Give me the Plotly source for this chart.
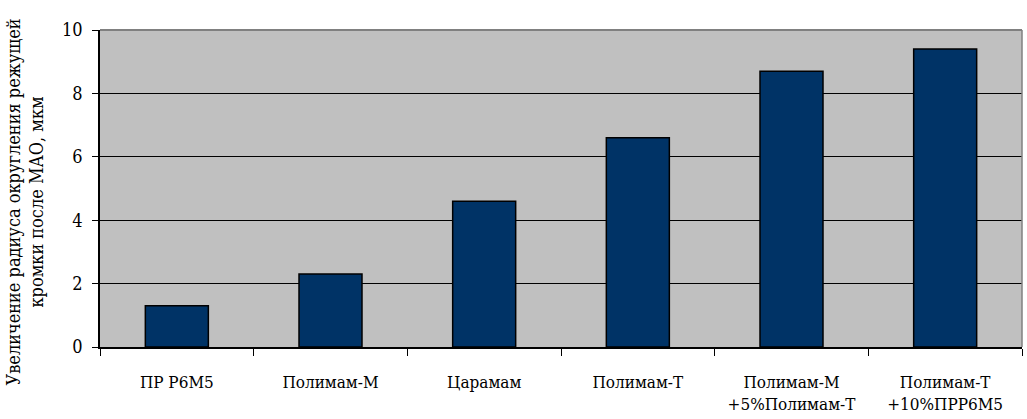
import plotly.graph_objects as go

categories = [
    "ПР Р6М5",
    "Полимам-М",
    "Царамам",
    "Полимам-Т",
    "Полимам-М<br>+5%Полимам-Т",
    "Полимам-Т<br>+10%ПРР6М5",
]
values = [1.3, 2.3, 4.6, 6.6, 8.7, 9.4]
y_ticks = [0, 2, 4, 6, 8, 10]

font_family = "DejaVu Serif Condensed, DejaVu Serif"

fig = go.Figure(
    go.Bar(
        x=categories,
        y=values,
        marker=dict(color="#003366", line=dict(color="#000000", width=1.5)),
        width=0.41,
    )
)

fig.update_layout(
    width=1027,
    height=419,
    margin=dict(l=100, r=5, t=30, b=72),
    paper_bgcolor="white",
    plot_bgcolor="#C0C0C0",
    showlegend=False,
    font=dict(family=font_family, size=17, color="black"),
)

fig.update_xaxes(
    showline=True,
    linecolor="black",
    linewidth=1.5,
    ticks="outside",
    ticklen=7,
    tickcolor="black",
    tickson="boundaries",
    showgrid=False,
    ticklabelstandoff=19,
    tickfont=dict(family=font_family, size=17),
)
fig.update_yaxes(
    range=[0, 10],
    tickvals=y_ticks,
    showline=True,
    linecolor="black",
    linewidth=1.5,
    ticks="outside",
    ticklen=6,
    tickcolor="black",
    showgrid=True,
    gridcolor="black",
    gridwidth=1.2,
    zeroline=False,
    ticklabelstandoff=6,
    tickfont=dict(family=font_family, size=18),
)

# gray frame along the top and right of the plot area
fig.add_shape(
    type="line", xref="paper", yref="paper", x0=0, x1=1, y0=1, y1=1,
    line=dict(color="#808080", width=2),
)
fig.add_shape(
    type="line", xref="paper", yref="paper", x0=1, x1=1, y0=0, y1=1,
    line=dict(color="#808080", width=1.5),
)

fig.add_annotation(
    text="Увеличение радиуса округления режущей<br>кромки после МАО, мкм",
    xref="paper", yref="paper",
    x=-0.0813, y=0.456,
    xanchor="center", yanchor="middle",
    textangle=-90,
    showarrow=False,
    font=dict(family=font_family, size=18),
)

fig.write_html("out.html")
